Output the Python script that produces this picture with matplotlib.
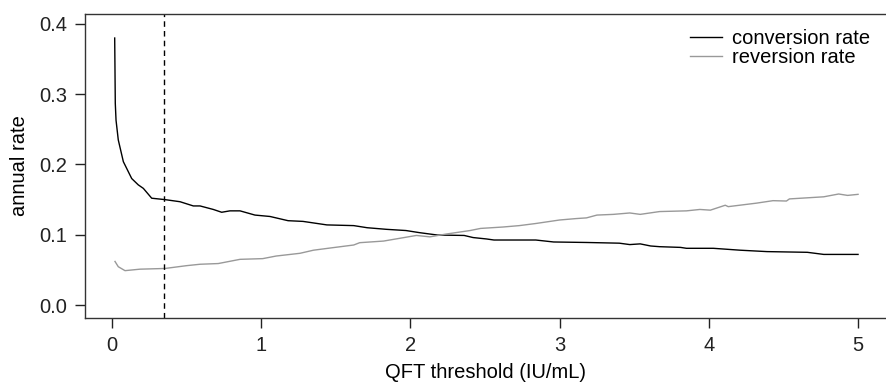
import matplotlib
matplotlib.use("Agg")
import matplotlib.pyplot as plt

plt.rcParams['font.family'] = ['Liberation Sans', 'DejaVu Sans']

conv_x = [0.018, 0.020, 0.022, 0.027, 0.042, 0.076, 0.132, 0.176, 0.21, 0.266, 0.355, 0.456,
          0.545, 0.59, 0.679, 0.735, 0.79, 0.858, 0.958, 1.059, 1.18, 1.28, 1.44, 1.62,
          1.71, 1.84, 1.97, 2.06, 2.18, 2.36, 2.42, 2.51, 2.56, 2.84, 2.96, 3.18, 3.40,
          3.47, 3.54, 3.61, 3.67, 3.81, 3.85, 4.03, 4.21, 4.39, 4.66, 4.77, 5.0]
conv_y = [0.380, 0.334, 0.287, 0.263, 0.235, 0.204, 0.180, 0.171, 0.166, 0.152, 0.150, 0.147,
          0.141, 0.141, 0.136, 0.132, 0.134, 0.134, 0.128, 0.126, 0.120, 0.119, 0.114, 0.113,
          0.110, 0.1077, 0.106, 0.103, 0.0996, 0.099, 0.096, 0.094, 0.0925, 0.0925, 0.0897, 0.089, 0.088,
          0.086, 0.087, 0.084, 0.083, 0.082, 0.0807, 0.0807, 0.078, 0.076, 0.075, 0.072, 0.072]

rev_x = [0.02, 0.042, 0.087, 0.188, 0.355, 0.5, 0.59, 0.712, 0.858, 1.01, 1.10, 1.26, 1.35,
         1.48, 1.62, 1.66, 1.82, 1.93, 2.04, 2.13, 2.24, 2.40, 2.47, 2.62, 2.73, 2.84,
         3.0, 3.11, 3.18, 3.25, 3.36, 3.47, 3.54, 3.67, 3.85, 3.94, 4.01, 4.11, 4.13,
         4.32, 4.43, 4.52, 4.54, 4.77, 4.87, 4.93, 5.0]
rev_y = [0.062, 0.0545, 0.0489, 0.051, 0.052, 0.056, 0.058, 0.059, 0.065, 0.066, 0.0697, 0.0736, 0.078,
         0.0816, 0.0854, 0.0887, 0.091, 0.095, 0.099, 0.097, 0.101, 0.106, 0.109, 0.111, 0.113, 0.116,
         0.121, 0.123, 0.124, 0.128, 0.129, 0.131, 0.129, 0.133, 0.134, 0.136, 0.135, 0.142, 0.140,
         0.145, 0.1485, 0.148, 0.151, 0.154, 0.158, 0.156, 0.1575]

threshold = 0.35
x_ticks = [0, 1, 2, 3, 4, 5]
y_ticks = [0.0, 0.1, 0.2, 0.3, 0.4]

FS = 14.5
fig = plt.figure(figsize=(8.87, 3.85), dpi=100)
W, H = 887, 385
ax = fig.add_axes([85 / W, (H - 318) / H, (W - 85) / W, (318 - 14) / H])

ax.plot(conv_x, conv_y, color='black', lw=1.0, label='conversion rate')
ax.plot(rev_x, rev_y, color='#999999', lw=1.0, label='reversion rate')
ax.axvline(threshold, color='black', lw=1.0, ls=(0, (4, 3)))

ax.set_xlim(-0.181, 5.194)
ax.set_ylim(-0.0185, 0.4142)
ax.set_xticks(x_ticks)
ax.set_xticklabels([str(t) for t in x_ticks])
ax.set_yticks(y_ticks)
ax.set_yticklabels([f"{t:.1f}" for t in y_ticks])
ax.tick_params(direction='out', length=7, width=1, labelsize=FS, pad=6, colors='#222222')
for s in ['left', 'bottom', 'top']:
    ax.spines[s].set_linewidth(1.0)
    ax.spines[s].set_color('#333333')
ax.spines['right'].set_visible(False)

ax.set_xlabel('QFT threshold (IU/mL)', fontsize=FS, labelpad=6)
ax.set_ylabel('annual rate', fontsize=FS, labelpad=7)

leg = ax.legend(loc='upper left', bbox_to_anchor=((678 - 85) / (W - 85), 0.99),
                frameon=False, fontsize=FS, handlelength=1.6, handletextpad=0.5,
                labelspacing=0.0, borderaxespad=0.2)

fig.savefig('out.png', dpi=100)
